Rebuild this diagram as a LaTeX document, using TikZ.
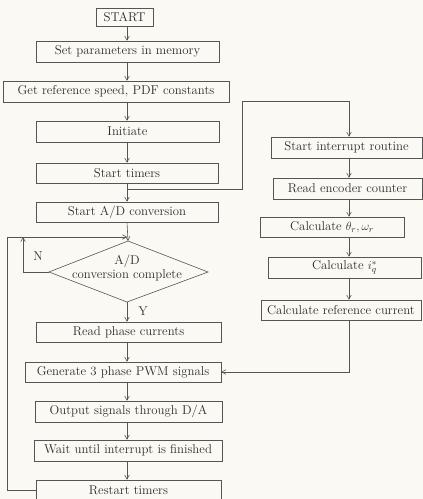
\documentclass[tikz,border=0pt]{standalone}
\usetikzlibrary{arrows.meta,calc}
\definecolor{bg}{RGB}{250,249,244}
\definecolor{ln}{RGB}{85,85,85}
\definecolor{tx}{RGB}{45,45,45}
\tikzset{
  box/.style={draw=ln, line width=0.6pt, rectangle, inner sep=0pt, text=tx, font=\fontsize{12.8}{15}\selectfont},
  arr/.style={draw=ln, line width=0.6pt, -{Straight Barb[length=4pt,width=4.5pt]}},
  plain/.style={draw=ln, line width=0.6pt},
  lbl/.style={text=tx, inner sep=0pt, font=\fontsize{12.8}{15}\selectfont}
}
\begin{document}
\begin{tikzpicture}[x=1pt,y=-1pt]
\fill[bg] (0,0) rectangle (423,499);
\useasboundingbox (0,0) rectangle (423,499);
% column coordinates
\coordinate (mx) at (127,0);
\coordinate (rx) at (349,0);
% main column
\node[box, minimum width=57pt, minimum height=18pt] (start) at (124.5,17) {START};
\node[box, minimum width=183pt, minimum height=21pt] (set) at (127.5,51.5) {Set parameters in memory};
\node[box, minimum width=226pt, minimum height=21pt] (getref) at (116,91.5) {Get reference speed, PDF constants};
\node[box, minimum width=183pt, minimum height=21pt] (init) at (127.5,131.5) {Initiate};
\node[box, minimum width=182pt, minimum height=20pt] (timers) at (127,173) {Start timers};
\node[box, minimum width=182pt, minimum height=20pt] (ad) at (127,212) {Start A/D conversion};
% decision diamond
\coordinate (dtop) at (128,241);
\coordinate (dbot) at (127,302);
\coordinate (dleft) at (49,272);
\coordinate (dright) at (208,272);
\draw[plain] (dtop) -- (dright) -- (dbot) -- (dleft) -- cycle;
\node[lbl, align=center] (dec) at (127,268) {A/D\\[-1pt]conversion complete};
\node[box, minimum width=185pt, minimum height=20pt] (read) at (128.5,332) {Read phase currents};
\node[box, minimum width=196pt, minimum height=20pt] (gen) at (123,372) {Generate 3 phase PWM signals};
\node[box, minimum width=187pt, minimum height=21pt] (out) at (128.5,411.5) {Output signals through D/A};
\node[box, minimum width=188pt, minimum height=21pt] (wait) at (128,450.5) {Wait until interrupt is finished};
\node[box, minimum width=185pt, minimum height=20pt] (restart) at (128.5,490) {Restart timers};
% right column
\node[box, minimum width=151pt, minimum height=21pt] (sint) at (346.5,147.5) {Start interrupt routine};
\node[box, minimum width=149pt, minimum height=21pt] (renc) at (347.5,188.5) {Read encoder counter};
\node[box, minimum width=144pt, minimum height=20pt] (calth) at (332,227) {Calculate $\theta_r,\omega_r$};
\node[box, minimum width=153pt, minimum height=21pt] (caliq) at (344.5,267.5) {Calculate $i_q^*$};
\node[box, minimum width=160pt, minimum height=20pt] (calref) at (341,310) {Calculate reference current};
% labels
\node[lbl] (nlbl) at (38,256) {N};
\node[lbl] (ylbl) at (143,311) {Y};
% main arrows
\draw[arr] (start.south -| mx) -- (set.north -| mx);
\draw[arr] (set.south -| mx) -- (getref.north -| mx);
\draw[arr] (getref.south -| mx) -- (init.north -| mx);
\draw[arr] (init.south -| mx) -- (timers.north -| mx);
\draw[arr] (timers.south -| mx) -- (ad.north -| mx);
\draw[arr] (ad.south -| mx) -- (dtop);
\draw[arr] (dbot) -- (read.north -| dbot);
\draw[arr] (read.south -| mx) -- (gen.north -| mx);
\draw[arr] (gen.south -| mx) -- (out.north -| mx);
\draw[arr] (out.south -| mx) -- (wait.north -| mx);
\draw[arr] (wait.south -| mx) -- (restart.north -| mx);
% branch to interrupt routine
\coordinate (j1) at (127,189);
\coordinate (c1) at (242,101);
\draw[arr] (j1) -- (j1 -| c1) -- (c1) -- (c1 -| rx) -- (sint.north -| rx);
% right arrows
\draw[arr] (sint.south -| rx) -- (renc.north -| rx);
\draw[arr] (renc.south -| rx) -- (calth.north -| rx);
\draw[arr] (calth.south -| rx) -- (caliq.north -| rx);
\draw[arr] (caliq.south -| rx) -- (calref.north -| rx);
\draw[arr] (calref.south -| rx) |- (gen.east);
% loops
\coordinate (lx) at (7,0);
\coordinate (nx) at (23,0);
\coordinate (ly) at (0,237);
\draw[arr] (restart.west) -- (restart.west -| lx) -- (lx |- ly) -- (mx |- ly);
\draw[arr] (dleft) -- (dleft -| nx) -- (nx |- ly);
\end{tikzpicture}
\end{document}
